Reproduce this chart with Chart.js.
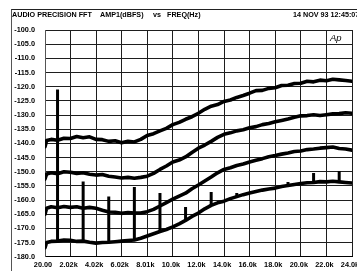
<!DOCTYPE html>
<html>
<head>
<meta charset="utf-8">
<script src="https://cdn.jsdelivr.net/npm/chart.js@4/dist/chart.umd.min.js"></script>
<style>
  html, body { margin: 0; padding: 0; background: #fff; }
  #wrap { position: relative; width: 357px; height: 271px; overflow: hidden; background: #fff; }
  #c { position: absolute; left: 0; top: 0; }
  .frame { position: absolute; left: 11px; top: 9px; width: 346px; height: 262px;
           border-left: 1px solid #555; border-top: 1px solid #222; box-sizing: border-box; }
  .hdr { position: absolute; top: 11px; font: bold 7.2px "Liberation Sans", Arial, sans-serif;
         line-height: 8px; color: #000; white-space: pre; }
  .logo { position: absolute; left: 330px; top: 32px; font: italic 9.5px "Liberation Sans", Arial, sans-serif;
          color: #000; }
</style>
</head>
<body>
<div id="wrap">
  <canvas id="c" width="357" height="271"></canvas>
  <div class="frame"></div>
  <span class="hdr" style="left:12px">AUDIO PRECISION FFT</span>
  <span class="hdr" style="left:100px">AMP1(dBFS)</span>
  <span class="hdr" style="left:153px">vs</span>
  <span class="hdr" style="left:167px">FREQ(Hz)</span>
  <span class="hdr" style="left:293px">14 NOV 93 12:45:07</span>
  <span class="logo">Ap</span>
</div>
<script>
// Frequencies (Hz) of the traced points
const freqs = [20,150,500,1000,1500,2000,2500,3000,3500,4000,4500,5000,5500,6000,6500,7000,7500,8000,8500,9000,9500,
  10000,10500,11000,11500,12000,12500,13000,13500,14000,14500,15000,15500,16000,16500,17000,17500,18000,18500,19000,19500,
  20000,20500,21000,21500,22000,22500,23000,23500,24000];

// Four FFT noise floor traces (dBFS)
const trace1 = [-141.2,-139.0,-138.6,-138.9,-138.2,-138.3,-137.6,-138.0,-137.7,-138.6,-138.7,-139.3,-139.1,-139.8,-139.3,-139.5,-138.6,-137.2,-136.6,-135.6,-134.7,
  -133.4,-132.6,-131.5,-130.6,-129.4,-128.0,-126.9,-126.3,-125.2,-124.7,-123.8,-123.1,-122.3,-121.4,-121.3,-120.6,-120.4,-119.6,-119.5,-118.9,
  -118.8,-118.1,-118.3,-117.7,-117.9,-117.4,-117.6,-117.8,-118.1];
const trace2 = [-152.6,-150.8,-150.4,-150.7,-150.0,-150.2,-150.6,-150.4,-150.9,-151.2,-151.0,-151.6,-151.9,-152.2,-152.0,-152.3,-152.0,-151.6,-150.6,-149.2,-148.0,
  -146.6,-145.9,-144.8,-143.2,-141.7,-140.6,-139.3,-137.9,-136.8,-136.3,-135.6,-135.2,-134.5,-134.1,-133.4,-133.0,-132.4,-131.9,-131.4,-130.8,
  -130.3,-130.2,-129.9,-130.2,-129.9,-129.6,-129.5,-129.2,-129.4];
const trace3 = [-165.0,-162.9,-162.4,-162.7,-162.3,-162.6,-162.4,-162.9,-162.6,-162.9,-163.6,-164.2,-164.3,-164.7,-164.4,-164.6,-164.6,-164.1,-163.3,-162.1,-160.9,
  -159.7,-158.6,-157.6,-156.0,-154.7,-153.3,-151.9,-150.4,-149.2,-148.6,-147.8,-147.3,-146.6,-146.0,-145.4,-144.7,-144.3,-143.8,-143.4,-142.9,
  -142.7,-142.2,-142.0,-141.7,-141.5,-141.3,-141.8,-142.0,-142.4];
const trace4 = [-176.8,-175.0,-174.6,-174.5,-174.1,-174.2,-174.6,-174.5,-174.9,-175.2,-175.0,-174.9,-174.7,-174.5,-174.3,-174.1,-173.5,-172.7,-171.9,-171.1,-170.4,
  -169.5,-168.4,-167.2,-165.8,-164.6,-163.1,-161.9,-161.0,-160.4,-159.5,-158.8,-158.1,-157.5,-157.0,-156.5,-156.1,-155.8,-155.2,-154.9,-154.5,
  -154.2,-153.9,-153.8,-153.5,-153.6,-153.4,-153.6,-153.8,-154.0];

// Harmonic spikes on the lowest trace
const harmonicFreqs = [1000,3000,5000,7000,9000,11000,13000,15000,19000,21000,23000];
const harmonicTops  = [-121.0,-153.5,-158.8,-155.4,-157.5,-162.5,-157.2,-157.5,-153.6,-150.5,-149.8];

// Axis ticks
const xTickLabels = ['20.00','2.02k','4.02k','6.02k','8.01k','10.0k','12.0k','14.0k','16.0k','18.0k','20.0k','22.0k','24.0k'];
const xMin = 20, xMax = 24000;
const yMin = -180, yMax = -100, yStep = 5;

const xTickValues = xTickLabels.map((_, i) => xMin + i * (xMax - xMin) / (xTickLabels.length - 1));

const toPts = arr => freqs.map((f, i) => ({ x: f, y: arr[i] }));
const spikePts = [];
harmonicFreqs.forEach((f, i) => {
  const base = trace4[freqs.indexOf(f)];
  spikePts.push({ x: f, y: base }, { x: f, y: harmonicTops[i] }, { x: f, y: null });
});

const lineDs = (arr) => ({
  data: toPts(arr), borderColor: '#000', borderWidth: 3.6, pointRadius: 0,
  tension: 0, fill: false, borderJoinStyle: 'round', borderCapStyle: 'round'
});

const font = { family: '"Liberation Sans", Arial, sans-serif', size: 7.3, weight: 'bold' };

new Chart(document.getElementById('c'), {
  type: 'line',
  data: {
    datasets: [
      lineDs(trace1), lineDs(trace2), lineDs(trace3), lineDs(trace4),
      { data: spikePts, borderColor: '#000', borderWidth: 3, pointRadius: 0, spanGaps: false,
        tension: 0, fill: false, borderCapStyle: 'butt' }
    ]
  },
  options: {
    responsive: false, animation: false, devicePixelRatio: 1,
    layout: { padding: { top: 30, right: 5, left: 0, bottom: 0 } },
    plugins: { legend: { display: false }, tooltip: { enabled: false }, title: { display: false } },
    scales: {
      x: {
        type: 'linear', min: xMin, max: xMax,
        afterBuildTicks: s => { s.ticks = xTickValues.map(v => ({ value: v })); },
        afterFit: s => { s.height = 14.3; s.paddingLeft = 0; s.paddingRight = 0; },
        ticks: {
          autoSkip: false, maxRotation: 0, minRotation: 0, padding: 4, labelOffset: -2,
          color: '#000', font: font,
          callback: (v, i) => xTickLabels[i]
        },
        grid: { color: '#1e1e1e', lineWidth: 1, drawTicks: false },
        border: { display: true, color: '#000', width: 1 }
      },
      y: {
        type: 'linear', min: yMin, max: yMax,
        afterFit: s => { s.width = 45; s.paddingTop = 0; s.paddingBottom = 0; },
        ticks: { stepSize: yStep, padding: 10, color: '#000', font: font, autoSkip: false,
                 callback: v => v.toFixed(1) },
        grid: { color: '#1e1e1e', lineWidth: 1, drawTicks: false },
        border: { display: true, color: '#555', width: 1 }
      }
    }
  }
});
</script>
</body>
</html>
